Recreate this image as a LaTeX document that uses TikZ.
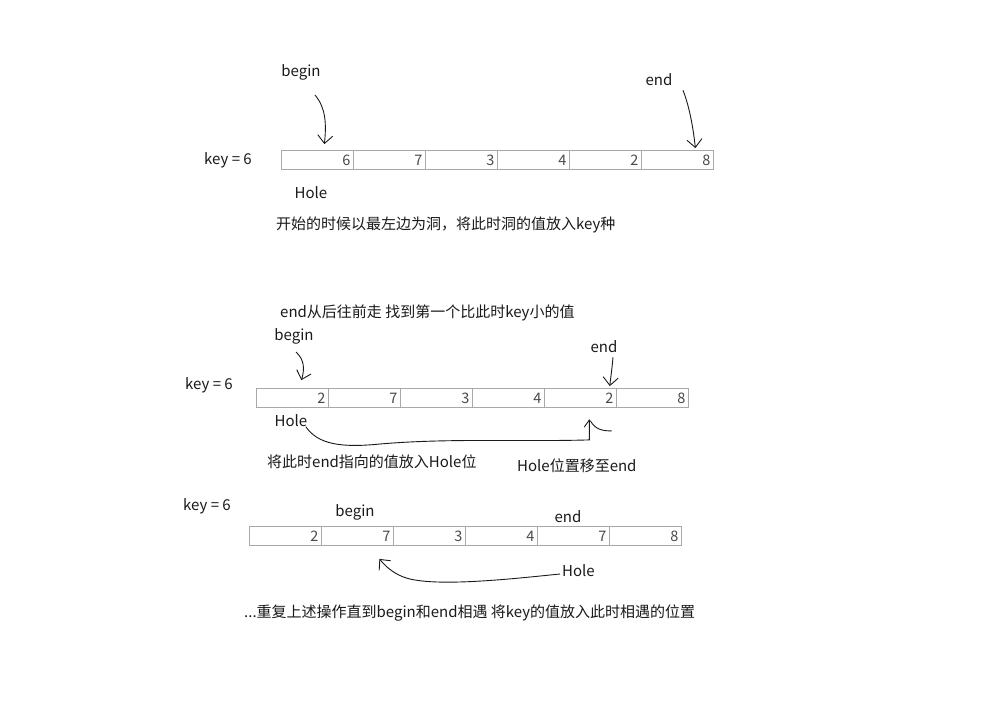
\documentclass[tikz,border=0pt]{standalone}
\usepackage{fontspec}
\setmainfont{Noto Sans CJK SC}
\usetikzlibrary{arrows.meta,positioning}
\definecolor{cellgray}{HTML}{A8A8A8}
\definecolor{numgray}{HTML}{4A4A4A}
\definecolor{inkblack}{HTML}{1A1A1A}
\tikzset{
  cell/.style={draw=cellgray, line width=0.8pt, minimum height=19pt, text width=66pt,
    inner xsep=3pt, inner ysep=0pt, align=right, text=numgray, anchor=west,
    font=\fontsize{14.5}{14.5}\selectfont},
  lbl/.style={inner sep=0pt, text=inkblack, font=\fontsize{15}{15}\selectfont},
  note/.style={lbl, anchor=west},
  pen/.style={line width=0.9pt, draw=inkblack, -{Straight Barb[length=8pt,width=15pt]}},
  penfree/.style={line width=0.9pt, draw=inkblack, line cap=round},
}

\begin{document}
\begin{tikzpicture}[x=1pt,y=-1pt]
  \fill[white] (0,0) rectangle (988,709);
  \useasboundingbox (0,0) rectangle (988,709);

  % step 1
  \node[lbl] (key1) at (228,160) {key = 6};
  \foreach \v [count=\i] in {6,7,3,4,2,8}
    \node[cell] (a\i) at ({281+72*(\i-1)},160) {\v};
  \node[lbl] (beg1) at (301,72) {begin};
  \node[lbl] (end1) at (659,80) {end};
  \node[lbl] (hole1) at (311,193) {Hole};
  \node[note] (cap1) at (276,225) {开始的时候以最左边为洞，将此时洞的值放入key种};
  \draw[pen] ([shift={(14,15)}]beg1.south) .. controls +(11,13) and +(2,-20) .. ([shift={(7,-6)}]a1.north);
  \draw[pen] ([shift={(24,4)}]end1.south) .. controls +(7,18) and +(-2,-18) .. ([shift={(18,-2)}]a6.north);

  % step 2
  \node[note] (cap2) at (280,313) {end从后往前走 找到第一个比此时key小的值};
  \node[lbl] (key2) at (209,385) {key = 6};
  \foreach \v [count=\i] in {2,7,3,4,2,8}
    \node[cell] (b\i) at ({256+72*(\i-1)},398) {\v};
  \node[lbl] (beg2) at (294,336) {begin};
  \node[lbl] (end2) at (604,347) {end};
  \node[lbl] (hole2) at (291,421) {Hole};
  \coordinate (mv2) at ([shift={(9,12)}]b5.south);
  \draw[pen] ([shift={(2,8)}]beg2.south) .. controls +(9,8) and +(3,-10) .. ([shift={(9,-8)}]b1.north);
  \draw[pen] ([shift={(9,4)}]end2.south) .. controls +(-1,12) and +(1,-10) .. ([shift={(-7,-2)}]b5.north east);
  \draw[penfree] ([shift={(15,6)}]hole2.center) .. controls +(12,17) and +(-40,4) .. (380,444)
    .. controls +(70,-6) and +(-69,2) .. ([shift={(0,20)}]mv2) -- (mv2);
  \draw[penfree] (mv2) -- ++(-5,7);
  \draw[penfree] ([shift={(1,1)}]mv2) .. controls +(5,9) and +(-8,0) .. ++(21,10);
  \node[note] (cap3) at (267,462) {将此时end指向的值放入Hole位};
  \node[note] (cap4) at (517,466) {Hole位置移至end};

  % step 3
  \node[lbl] (key3) at (207,506) {key = 6};
  \foreach \v [count=\i] in {2,7,3,4,7,8}
    \node[cell] (c\i) at ({249+72*(\i-1)},536) {\v};
  \node[lbl] (beg3) at (355,512) {begin};
  \node[lbl] (end3) at (568,517) {end};
  \node[note] (hole3) at (562,571) {Hole};
  \draw[pen] ([shift={(-2,3)}]hole3.west) .. controls +(-40,4) and +(35,6) .. (415,580)
    .. controls +(-20,-3) and +(5,6) .. ([shift={(22,13)}]c2.south);
  \node[note] (cap5) at (244,613) {...重复上述操作直到begin和end相遇 将key的值放入此时相遇的位置};
\end{tikzpicture}
\end{document}
